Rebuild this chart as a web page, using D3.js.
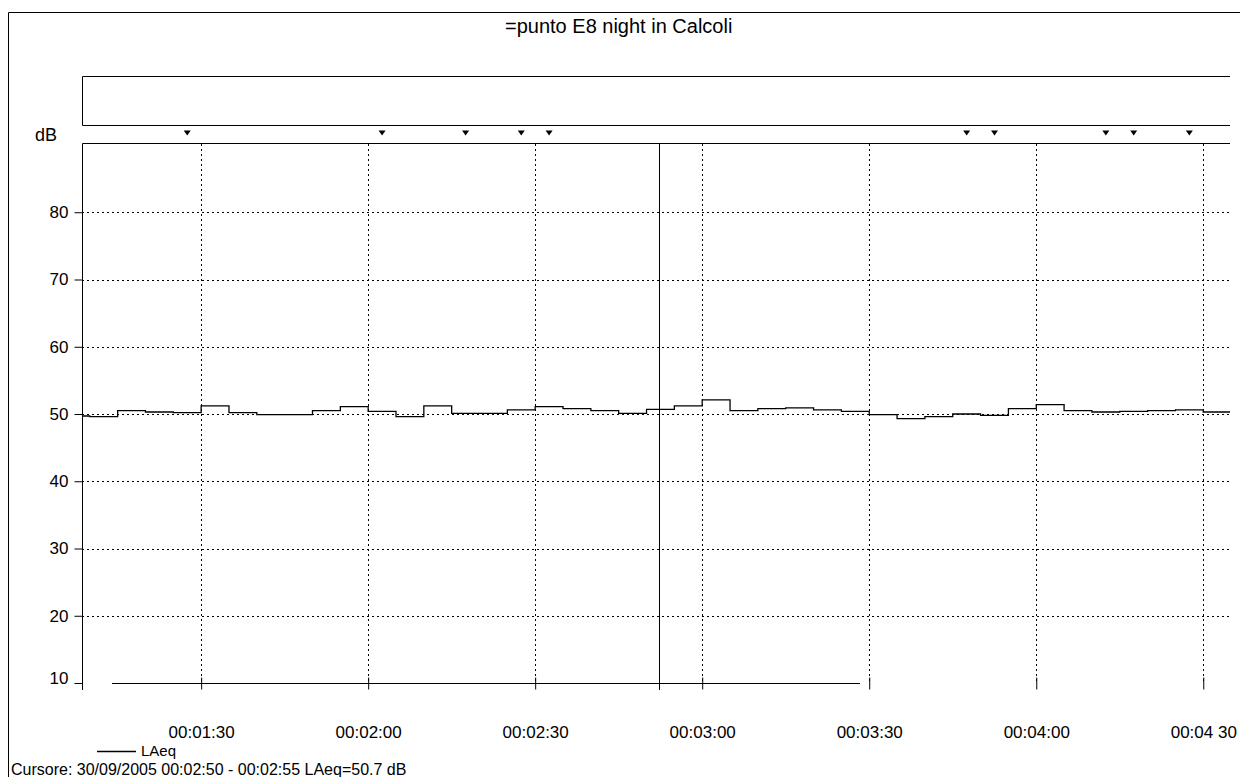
<!DOCTYPE html>
<html>
<head>
<meta charset="utf-8">
<script src="https://cdn.jsdelivr.net/npm/d3@7"></script>
<style>
  html, body { margin: 0; padding: 0; background: #fff; }
  svg { display: block; font-family: "Liberation Sans", Arial, sans-serif; }
</style>
</head>
<body>
<svg id="chart" width="1247" height="777"></svg>
<script>
// ---- data ----
const title = "=punto E8 night in Calcoli";
const yLabel = "dB";
const seriesName = "LAeq";
const cursorText = "Cursore: 30/09/2005 00:02:50 - 00:02:55  LAeq=50.7 dB";

// sample start times (5 s intervals) and LAeq values
const sampleTimes = ["00:01:05","00:01:10","00:01:15","00:01:20","00:01:25","00:01:30","00:01:35",
  "00:01:40","00:01:45","00:01:50","00:01:55","00:02:00","00:02:05","00:02:10","00:02:15",
  "00:02:20","00:02:25","00:02:30","00:02:35","00:02:40","00:02:45","00:02:50","00:02:55",
  "00:03:00","00:03:05","00:03:10","00:03:15","00:03:20","00:03:25","00:03:30","00:03:35",
  "00:03:40","00:03:45","00:03:50","00:03:55","00:04:00","00:04:05","00:04:10","00:04:15",
  "00:04:20","00:04:25","00:04:30"];
const laeq = [49.7,49.6,50.5,50.3,50.2,51.2,50.2,
  49.9,49.9,50.5,51.1,50.4,49.6,51.2,50.1,
  50.1,50.6,51.1,50.8,50.5,50.1,50.7,51.2,
  52.1,50.5,50.8,50.9,50.6,50.4,49.9,49.3,
  49.6,50.0,49.8,50.8,51.4,50.5,50.3,50.4,
  50.5,50.6,50.3];

const xTickLabels = ["00:01:30","00:02:00","00:02:30","00:03:00","00:03:30","00:04:00","00:04 30"];
const xTickTimes  = ["00:01:30","00:02:00","00:02:30","00:03:00","00:03:30","00:04:00","00:04:30"];
const yTicks = [10,20,30,40,50,60,70,80];
const yGrid = [20,30,40,50,60,70,80];
const markerTimes = [87.5,122.5,137.5,147.5,152.5,227.5,232.5,252.5,257.5,267.5]; // seconds
const cursorTime = "00:02:52.5";
const xStart = "00:01:08.6", xEnd = "00:04:34.8";

// ---- helpers ----
function secs(s) { const p = s.split(":").map(Number); return p[0]*3600 + p[1]*60 + p[2]; }

const svg = d3.select("#chart");
const L = 82, R = 1230, T = 145, B = 683;

const x = d3.scaleLinear().domain([secs(xStart), secs(xEnd)]).range([L, R]);
const y = d3.scaleLinear().domain([10, 90]).range([B, T]);

const ink = "#000";
const FONT = "Liberation Sans, Arial, sans-serif";

// outer frame (top + left)
svg.append("line").attr("x1", 8.5).attr("x2", 1240).attr("y1", 12.5).attr("y2", 12.5).attr("stroke", ink);
svg.append("line").attr("x1", 8.5).attr("x2", 8.5).attr("y1", 12.5).attr("y2", 777).attr("stroke", ink);

// title
svg.append("text").attr("x", 505).attr("y", 33).attr("font-size", 20).attr("fill", ink).text(title);

// marker band
const bandTop = 76.5, bandBot = 125.5;
svg.append("line").attr("x1", L+0.5).attr("x2", R).attr("y1", bandTop).attr("y2", bandTop).attr("stroke", ink);
svg.append("line").attr("x1", L+0.5).attr("x2", R).attr("y1", bandBot).attr("y2", bandBot).attr("stroke", ink);
svg.append("line").attr("x1", L+0.5).attr("x2", L+0.5).attr("y1", bandTop).attr("y2", bandBot).attr("stroke", ink);

// event markers (small down triangles)
svg.append("g").selectAll("path").data(markerTimes).join("path")
  .attr("d", d => { const cx = x(d), cy = 133; return `M${cx-3.5},${cy-2.5}L${cx+3.5},${cy-2.5}L${cx},${cy+2.5}Z`; })
  .attr("fill", ink);

// y label
svg.append("text").attr("x", 35).attr("y", 141).attr("font-size", 18).attr("fill", ink).text(yLabel);

// plot frame top line
svg.append("line").attr("x1", L+0.5).attr("x2", R).attr("y1", 143.5).attr("y2", 143.5).attr("stroke", ink);

// grid lines
const grid = svg.append("g").attr("stroke", ink).attr("stroke-width", 1).attr("stroke-dasharray", "2,3");
grid.selectAll("line.h").data(yGrid).join("line").attr("class", "h")
  .attr("x1", L).attr("x2", R).attr("y1", d => Math.round(y(d))+0.5).attr("y2", d => Math.round(y(d))+0.5);
grid.selectAll("line.v").data(xTickTimes).join("line").attr("class", "v")
  .attr("x1", d => Math.round(x(secs(d)))+0.5).attr("x2", d => Math.round(x(secs(d)))+0.5)
  .attr("y1", 144).attr("y2", B);

// y axis
const yAxis = d3.axisLeft(y).tickValues(yTicks).tickSize(8).tickSizeOuter(0).tickPadding(6);
const gy = svg.append("g").attr("transform", `translate(${L+0.5},0)`).call(yAxis);
gy.select(".domain").attr("d", `M0,${T-1.5}V${B+7}`).attr("stroke", ink);
gy.selectAll(".tick line").attr("stroke", ink);
gy.selectAll(".tick text").attr("font-size", 17).attr("font-family", FONT).attr("fill", ink);
gy.selectAll(".tick").filter(d => d === 10).select("text").attr("dy", "0.05em");

// x axis
const xAxis = d3.axisBottom(x).tickValues(xTickTimes.map(secs))
  .tickFormat((d, i) => xTickLabels[i]).tickSize(6).tickSizeOuter(0).tickPadding(36);
const gx = svg.append("g").attr("transform", `translate(0,${B+0.5})`).call(xAxis);
gx.select(".domain").attr("d", `M${L+30},0H${R-370}`).attr("stroke", ink);
gx.selectAll(".tick line").attr("y1", -6).attr("y2", 6).attr("stroke", ink);
gx.selectAll(".tick text").attr("font-size", 17).attr("font-family", FONT).attr("fill", ink)
  .attr("y", 54).attr("dy", 0);

// clip
svg.append("clipPath").attr("id", "clip").append("rect").attr("x", L).attr("y", T).attr("width", R - L).attr("height", B - T);

// data line (step)
const pts = sampleTimes.map((t, i) => ({ t: secs(t), v: laeq[i] }));
const lastT = secs(sampleTimes[sampleTimes.length-1]) + 5;
const ptsExt = pts.concat([{ t: lastT, v: laeq[laeq.length-1] }]);
const line = d3.line().x(d => x(d.t)).y(d => y(d.v)).curve(d3.curveStepAfter);
svg.append("path").datum(ptsExt).attr("clip-path", "url(#clip)")
  .attr("d", line).attr("fill", "none").attr("stroke", ink).attr("stroke-width", 1.3);

// cursor line
const cx = Math.round(x(secs(cursorTime))) - 0.5;
svg.append("line").attr("x1", cx).attr("x2", cx).attr("y1", 143).attr("y2", 690).attr("stroke", ink).attr("stroke-width", 1);

// legend
svg.append("line").attr("x1", 97).attr("x2", 136).attr("y1", 751.5).attr("y2", 751.5).attr("stroke", ink).attr("stroke-width", 1.5);
svg.append("text").attr("x", 141).attr("y", 756).attr("font-size", 15).attr("fill", ink).text(seriesName);

// cursor readout
svg.append("text").attr("x", 11).attr("y", 775).attr("font-size", 16).attr("fill", ink).text(cursorText);
</script>
</body>
</html>
